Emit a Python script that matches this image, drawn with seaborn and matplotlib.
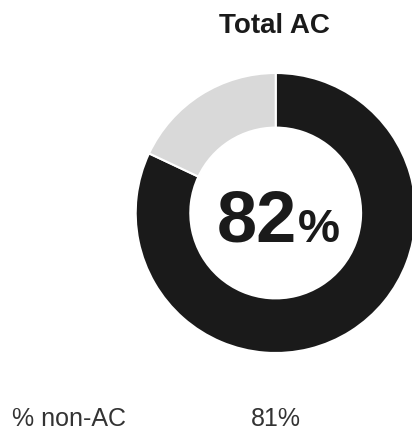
import matplotlib
matplotlib.use("Agg")
import matplotlib.pyplot as plt
import seaborn as sns

# data
labels = ["AC", "non-AC"]
shares = [82, 18]
colors = ["#1a1a1a", "#d9d9d9"]
title = "Total AC"
center_value = "82"
footer_label = "% non-AC"
footer_value = "81%"

sns.set_theme(style="white")
plt.rcParams['font.family'] = ['Liberation Sans', 'DejaVu Sans']

W, H = 412, 432
fig = plt.figure(figsize=(W / 100, H / 100), dpi=100)


def px(x, y):
    # pixel coords (from top-left) -> figure fraction
    return x / W, 1 - y / H


# donut: centre ~ (275.7, 213), outer radius ~140 px
cx, cy, r = 275.7, 213, 140
ax = fig.add_axes([(cx - r) / W, (H - cy - r) / H, 2 * r / W, 2 * r / H])
ax.pie(shares, colors=colors, startangle=90, counterclock=False, radius=1,
       wedgeprops=dict(width=0.39, edgecolor="white", linewidth=1.5))
ax.set_xlim(-1, 1)
ax.set_ylim(-1, 1)
ax.set_aspect("equal")
ax.axis("off")

fig.text(*px(274, 33.3), title, ha="center", va="baseline",
         fontsize=20, fontweight="bold", color="#1a1a1a")

fig.text(*px(297, 241.7), center_value, ha="right", va="baseline",
         fontsize=52, fontweight="bold", color="#1a1a1a")
fig.text(*px(298, 241.7), "%", ha="left", va="baseline",
         fontsize=34, fontweight="bold", color="#1a1a1a")

fig.text(*px(12, 426.5), footer_label, ha="left", va="baseline",
         fontsize=18, color="#333333")
fig.text(*px(251, 426.5), footer_value, ha="left", va="baseline",
         fontsize=18, color="#333333")

fig.savefig("out.png", dpi=100)
